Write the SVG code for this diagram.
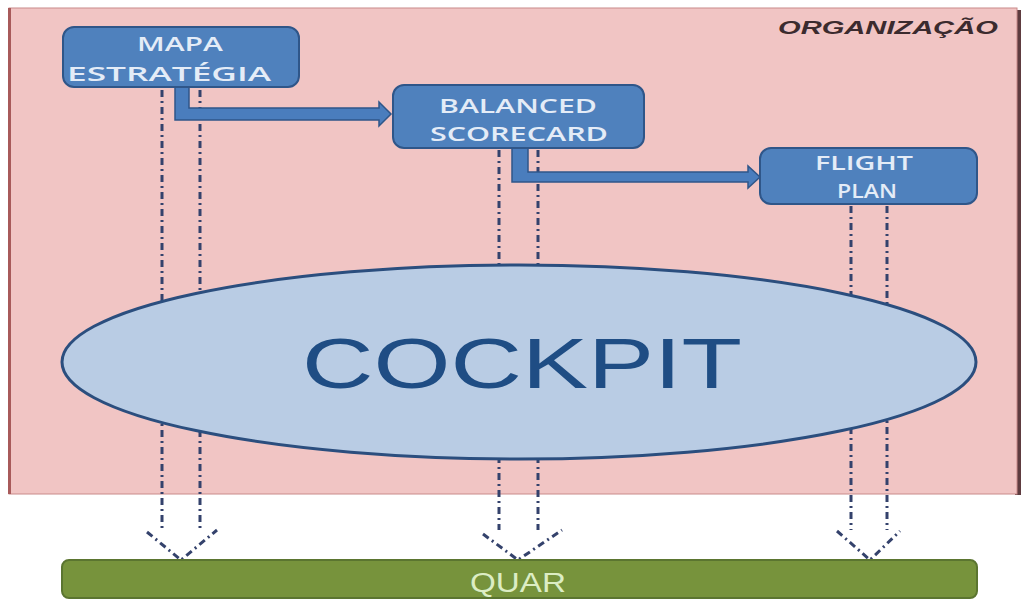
<svg xmlns="http://www.w3.org/2000/svg" width="1025" height="601" viewBox="0 0 1025 601">
  <style>
    .box { fill: #4f81bd; stroke: #2f5689; stroke-width: 2; }
    .boxtxt { font-family: "Open Sans", "Liberation Sans", Arial, sans-serif; font-size: 19px; font-weight: 600; fill: #e4ecf7; text-anchor: middle; }
    .flow { fill: #4a7dbd; stroke: #2f5689; stroke-width: 1.5; stroke-linejoin: miter; }
    .dash { fill: none; stroke: #34426c; stroke-width: 3; stroke-dasharray: 7 4 2 4; }
  </style>

  <rect x="0" y="0" width="1025" height="601" fill="#ffffff"/>

  <!-- organisation frame -->
  <g id="organizacao">
    <rect x="1015" y="10" width="6" height="485" fill="#5e3c40"/>
    <rect x="9" y="8" width="1008" height="486" fill="#f1c5c4" stroke="#c98a8a" stroke-width="1"/>
    <line x1="9.5" y1="8" x2="9.5" y2="494" stroke="#a85a5a" stroke-width="3"/>
    <text x="998" y="34" text-anchor="end" font-family="Liberation Sans, Arial, sans-serif" font-size="18" font-weight="bold" font-style="italic" fill="#3b2b2e" textLength="220" lengthAdjust="spacingAndGlyphs">ORGANIZAÇÃO</text>
  </g>

  <!-- connectors -->
  <g id="connectors">
    <!-- dashed down arrows to QUAR: shaft edges, then open head -->
    <path class="dash" d="M162,90 V530 M200,90 V530"/>
    <path class="dash" d="M147,532 L181,560 L217,530"/>
    <path class="dash" d="M499,150 V530 M538,150 V530"/>
    <path class="dash" d="M483,534 L518,560 L562,530"/>
    <path class="dash" d="M851,206 V530 M887,206 V530"/>
    <path class="dash" d="M837,531 L870,560 L900,531"/>
    <!-- flow arrows between the planning levels -->
    <polygon class="flow" points="175,87 189,87 189,108 379,108 379,102 391,114 379,126 379,120 175,120"/>
    <polygon class="flow" points="512,148 528,148 528,172 748,172 748,166 760,177 748,188 748,182 512,182"/>
  </g>

  <g id="mapa">
    <rect class="box" x="63" y="27" width="236" height="60" rx="11"/>
    <text class="boxtxt" x="180" y="51" textLength="86" lengthAdjust="spacingAndGlyphs">MAPA</text>
    <text class="boxtxt" x="169" y="81" textLength="204" lengthAdjust="spacingAndGlyphs">ESTRATÉGIA</text>
  </g>

  <g id="balanced">
    <rect class="box" x="393" y="85" width="251" height="63" rx="11"/>
    <text class="boxtxt" x="518" y="113" textLength="158" lengthAdjust="spacingAndGlyphs">BALANCED</text>
    <text class="boxtxt" x="519" y="141" textLength="178" lengthAdjust="spacingAndGlyphs">SCORECARD</text>
  </g>

  <g id="flight">
    <rect class="box" x="760" y="148" width="217" height="56" rx="11"/>
    <text class="boxtxt" x="864" y="170" textLength="98" lengthAdjust="spacingAndGlyphs">FLIGHT</text>
    <text class="boxtxt" x="867" y="198" textLength="60" lengthAdjust="spacingAndGlyphs">PLAN</text>
  </g>

  <g id="cockpit">
    <ellipse cx="519" cy="362" rx="457" ry="97" fill="#b9cce4" stroke="#2b4e7e" stroke-width="3"/>
    <text x="522" y="388" text-anchor="middle" font-family="Liberation Sans, Arial, sans-serif" font-size="70" fill="#1f4d84" textLength="440" lengthAdjust="spacingAndGlyphs">COCKPIT</text>
  </g>

  <g id="quar">
    <rect x="62" y="560" width="915" height="38" rx="7" fill="#77933c" stroke="#5b7530" stroke-width="2"/>
    <text x="518" y="592" text-anchor="middle" font-family="Liberation Sans, Arial, sans-serif" font-size="27" fill="#dcedc4" textLength="96" lengthAdjust="spacingAndGlyphs">QUAR</text>
  </g>
</svg>
